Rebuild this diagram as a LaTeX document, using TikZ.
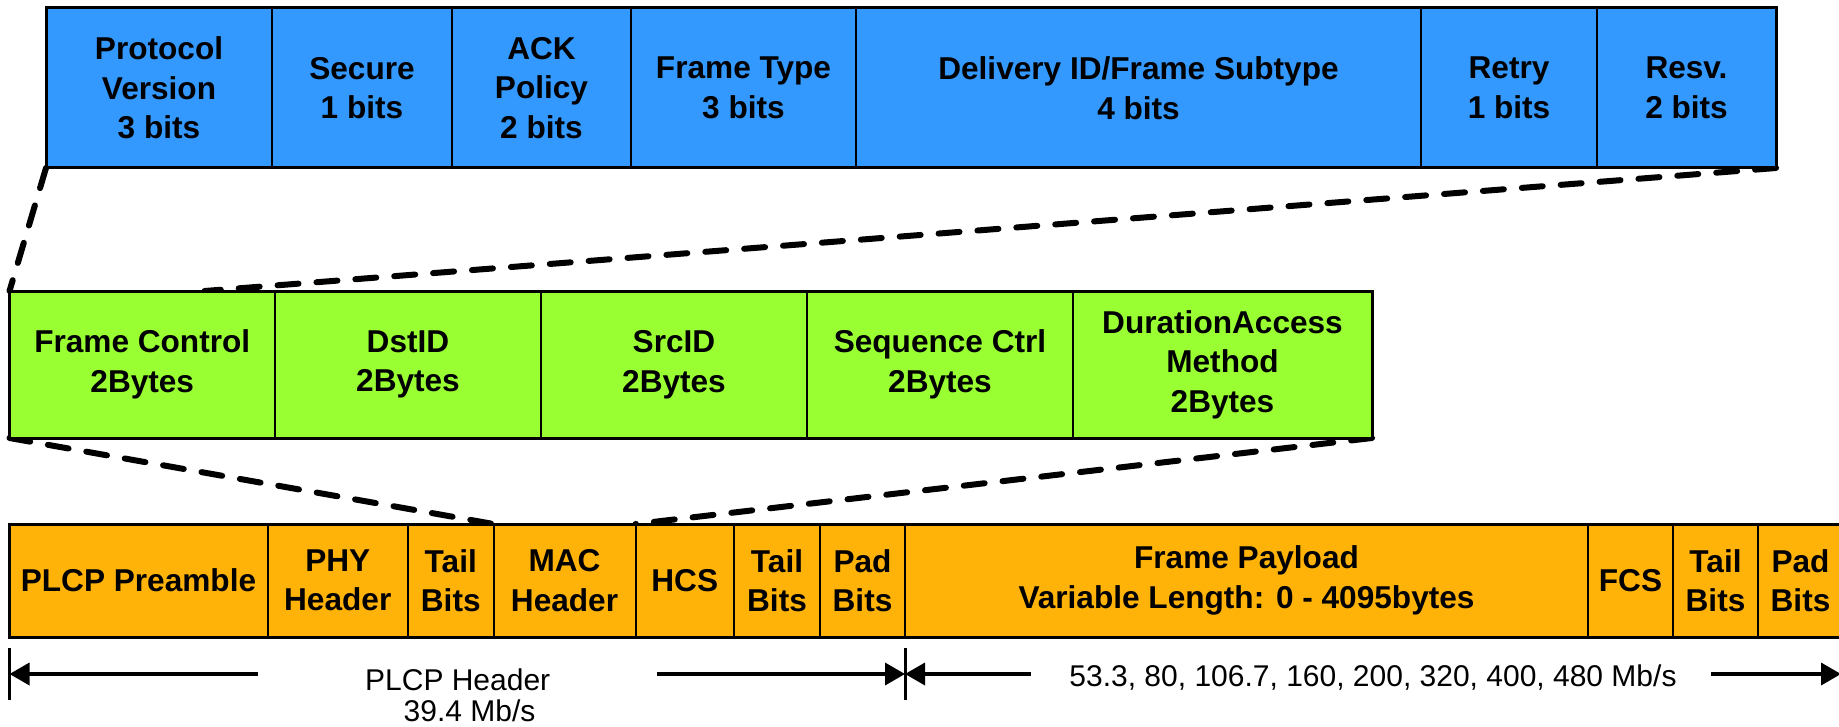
\documentclass[tikz,border=0pt]{standalone}
\usepackage{fontspec}
\setmainfont{Liberation Sans}
\usetikzlibrary{arrows.meta,calc,backgrounds}

\definecolor{fieldblue}{RGB}{51,153,255}
\definecolor{fieldgreen}{RGB}{153,255,51}
\definecolor{fieldorange}{RGB}{255,179,8}

% one field of a frame: name, fill, x-left, x-right, y-top, y-bottom, label
\newcommand\framefield[7]{%
  \pgfmathsetmacro\ffw{(#4-#3)*0.5}%
  \pgfmathsetmacro\ffh{(#6-#5)*0.5}%
  \node[field,fill=#2,minimum width=\ffw pt,minimum height=\ffh pt]
    (#1) at ({(#3+#4)/2},{(#5+#6)/2}) {#7};%
}

\begin{document}
\begin{tikzpicture}[x=0.5pt,y=-0.5pt,
  field/.style={draw=black,line width=1pt,inner sep=0pt,outer sep=0pt,
    align=center,font=\bfseries\fontsize{15.8}{19.75}\selectfont},
  rowframe/.style={draw=black,line width=1.5pt},
  zoomline/.style={draw=black,line width=3pt,line cap=round,dash pattern=on 10.5pt off 9pt},
  tickline/.style={draw=black,line width=1.5pt},
  spanarrow/.style={draw=black,line width=1.8pt,-{Triangle[length=10pt,width=11pt]}},
  ratelabel/.style={anchor=base,inner sep=0pt,font=\fontsize{15}{18}\selectfont}]

\useasboundingbox (0,0) rectangle (1839,727);
\clip (0,0) rectangle (1839,727);

% control-field bits
\framefield{b1}{fieldblue}{46}{272}{8}{168}{Protocol\\Version\\3 bits}
\framefield{b2}{fieldblue}{272}{452}{8}{168}{Secure\\1 bits}
\framefield{b3}{fieldblue}{452}{631}{8}{168}{ACK\\Policy\\2 bits}
\framefield{b4}{fieldblue}{631}{856}{8}{168}{Frame Type\\3 bits}
\framefield{b5}{fieldblue}{856}{1421}{8}{168}{Delivery ID/Frame Subtype\\4 bits}
\framefield{b6}{fieldblue}{1421}{1597}{8}{168}{Retry\\1 bits}
\framefield{b7}{fieldblue}{1597}{1776}{8}{168}{Resv.\\2 bits}
\draw[rowframe] (b1.north west) rectangle (b7.south east);

% MAC header fields
\framefield{g1}{fieldgreen}{9.5}{275}{291}{438}{Frame Control\\2Bytes}
\framefield{g2}{fieldgreen}{275}{541}{291}{438}{DstID\\2Bytes}
\framefield{g3}{fieldgreen}{541}{807}{291}{438}{SrcID\\2Bytes}
\framefield{g4}{fieldgreen}{807}{1073}{291}{438}{Sequence Ctrl\\2Bytes}
\framefield{g5}{fieldgreen}{1073}{1372}{291}{438}{DurationAccess\\Method\\2Bytes}
\draw[rowframe] (g1.north west) rectangle (g5.south east);

% PLCP frame
\framefield{o1}{fieldorange}{9.5}{267.5}{524}{637}{PLCP Preamble}
\framefield{o2}{fieldorange}{267.5}{408}{524}{637}{PHY\\Header}
\framefield{o3}{fieldorange}{408}{493.5}{524}{637}{Tail\\Bits}
\framefield{o4}{fieldorange}{493.5}{635.5}{524}{637}{MAC\\Header}
\framefield{o5}{fieldorange}{635.5}{734}{524}{637}{HCS}
\framefield{o6}{fieldorange}{734}{820}{524}{637}{Tail\\Bits}
\framefield{o7}{fieldorange}{820}{905}{524}{637}{Pad\\Bits}
\framefield{o8}{fieldorange}{905}{1588}{524}{637}{Frame Payload\\Variable Length: 0 - 4095bytes}
\framefield{o9}{fieldorange}{1588}{1673}{524}{637}{FCS}
\framefield{o10}{fieldorange}{1673}{1758}{524}{637}{Tail\\Bits}
\framefield{o11}{fieldorange}{1758}{1843}{524}{637}{Pad\\Bits}
\draw[rowframe] (o1.north west) rectangle (o11.south east);

% expansion guides between the rows, kept behind the boxes
\coordinate (fctop) at ($(g1.north west)!0.735!(g1.north east)$);
\begin{scope}[on background layer]
  \draw[zoomline] (b1.south west) -- (g1.north west);
  \draw[zoomline] (b7.south east) -- (fctop);
  \draw[zoomline] (g1.south west) -- (o4.north west);
  \draw[zoomline] (g5.south east) -- (o5.north west);
\end{scope}

% span markers under the frame
\coordinate (tickLtop) at (9.5,648);  \coordinate (tickLbot) at (9.5,700);
\coordinate (tickMtop) at (905,648);  \coordinate (tickMbot) at (905,700);
\draw[tickline] (tickLtop) -- (tickLbot);
\draw[tickline] (tickMtop) -- (tickMbot);

\coordinate (hdrL) at (258,674);   \coordinate (hdrLend) at (9.5,674);
\coordinate (hdrR) at (657,674);   \coordinate (hdrRend) at (905,674);
\coordinate (payL) at (1030.5,674); \coordinate (payLend) at (905,674);
\coordinate (payR) at (1711,674);  \coordinate (payRend) at (1841,674);
\draw[spanarrow] (hdrL) -- (hdrLend);
\draw[spanarrow] (hdrR) -- (hdrRend);
\draw[spanarrow] (payL) -- (payLend);
\draw[spanarrow] (payR) -- (payRend);

\node[ratelabel] (hdrname) at (457.7,690.7) {PLCP Header};
\node[ratelabel] (hdrrate) at (469.5,721) {39.4 Mb/s};
\node[ratelabel] (payrate) at (1373,686.7) {53.3, 80, 106.7, 160, 200, 320, 400, 480 Mb/s};

\end{tikzpicture}
\end{document}
